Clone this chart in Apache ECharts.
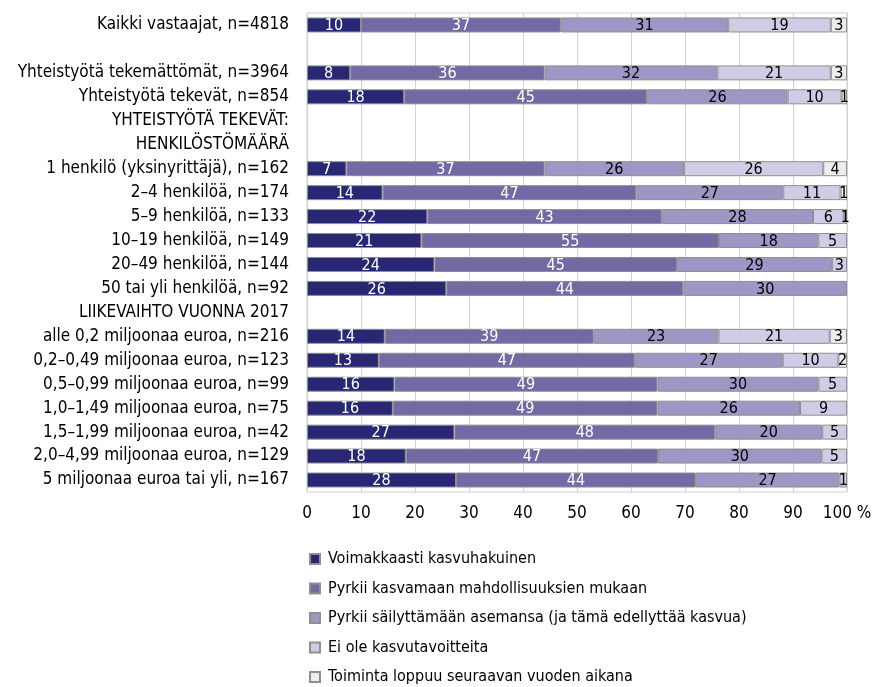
<!DOCTYPE html>
<html><head><meta charset="utf-8">
<script src="https://cdn.jsdelivr.net/npm/echarts@6/dist/echarts.min.js"></script>
<style>html,body{margin:0;padding:0;background:#fff}#c{width:879px;height:687px}</style>
</head><body><div id="c"></div>
<script>
const categories = [
  'Kaikki vastaajat, n=4818', '',
  'Yhteistyötä tekemättömät, n=3964', 'Yhteistyötä tekevät, n=854',
  'YHTEISTYÖTÄ TEKEVÄT:', 'HENKILÖSTÖMÄÄRÄ',
  '1 henkilö (yksinyrittäjä), n=162', '2–4 henkilöä, n=174', '5–9 henkilöä, n=133',
  '10–19 henkilöä, n=149', '20–49 henkilöä, n=144', '50 tai yli henkilöä, n=92',
  'LIIKEVAIHTO VUONNA 2017',
  'alle 0,2 miljoonaa euroa, n=216', '0,2–0,49 miljoonaa euroa, n=123',
  '0,5–0,99 miljoonaa euroa, n=99', '1,0–1,49 miljoonaa euroa, n=75',
  '1,5–1,99 miljoonaa euroa, n=42', '2,0–4,99 miljoonaa euroa, n=129',
  '5 miljoonaa euroa tai yli, n=167'
];
const seriesNames = [
  'Voimakkaasti kasvuhakuinen',
  'Pyrkii kasvamaan mahdollisuuksien mukaan',
  'Pyrkii säilyttämään asemansa (ja tämä edellyttää kasvua)',
  'Ei ole kasvutavoitteita',
  'Toiminta loppuu seuraavan vuoden aikana'
];
const s1 = [10, '-', 8, 18, '-', '-', 7.3, 14, 22.3, 21.2, 23.6, 25.8, '-', 14.4, 13.3, 16.2, 15.9, 27.3, 18.3, 27.6];
const s2 = [37, '-', 36, 45, '-', '-', 36.7, 47, 43.4, 55.1, 44.9, 43.9, '-', 38.7, 47.4, 48.7, 49, 48.3, 46.7, 44.4];
const s3 = [31, '-', 32, 26, '-', '-', 25.8, 27.2, 28, 18.4, 28.7, 30.3, '-', 23.1, 27.4, 29.8, 26.4, 19.8, 30.3, 26.6];
const s4 = [19, '-', 21, 10, '-', '-', 25.8, 10.6, 5.7, 5.3, 2.8, '-', '-', 20.6, 10.3, 5.3, 8.7, 4.6, 4.7, 1.4];
const s5 = [3, '-', 3, 1, '-', '-', 4.4, 1.2, 0.6, '-', '-', '-', '-', 3.2, 1.6, '-', '-', '-', '-', '-'];
const xTicks = [0, 10, 20, 30, 40, 50, 60, 70, 80, 90, 100];

const colors = ['#272775', '#736aa5', '#9d97c5', '#cfcde6', '#ededed'];
const labelColors = ['#fff', '#fff', '#000', '#000', '#000'];
const FONT = '"Liberation Sans Narrow", "DejaVu Sans Condensed", "Roboto Condensed", sans-serif';
const allData = [s1, s2, s3, s4, s5];

const chart = echarts.init(document.getElementById('c'), null, {renderer: 'canvas'});
chart.setOption({
  animation: false,
  textStyle: {fontFamily: FONT},
  grid: {left: 307, right: 32, top: 13, bottom: 195, show: true, borderColor: '#cfcfcf', borderWidth: 1},
  legend: {
    orient: 'vertical', left: 309, top: 551, padding: 0,
    itemWidth: 10, itemHeight: 10, itemGap: 13.5,
    icon: 'rect',
    textStyle: {fontFamily: FONT, fontSize: 16, lineHeight: 16, color: '#000', padding: [0, 0, 0, 3]},
    data: seriesNames
  },
  xAxis: {
    type: 'value', min: 0, max: 100, interval: 10,
    axisLine: {show: false}, axisTick: {show: false},
    splitLine: {show: true, lineStyle: {color: '#d2d2d2', width: 1}},
    axisLabel: {
      fontFamily: FONT, fontSize: 17, color: '#000', margin: 13,
      formatter: v => xTicks.includes(v) ? (v === 100 ? '100 %' : String(v)) : ''
    }
  },
  yAxis: {
    type: 'category', data: categories, inverse: true,
    axisLine: {show: false}, axisTick: {show: false},
    axisLabel: {fontFamily: FONT, fontSize: 17, color: '#000', margin: 18, padding: [3, 0, 0, 0]}
  },
  series: allData.map((d, i) => ({
    name: seriesNames[i], type: 'bar', stack: 'all', data: d,
    barWidth: 15,
    itemStyle: {color: colors[i], borderColor: '#8f8f8f', borderWidth: 1},
    label: {
      show: true, position: 'inside', color: labelColors[i],
      fontFamily: FONT, fontSize: 16, offset: [0, 1],
      formatter: p => (typeof p.value === 'number' ? String(Math.round(p.value)) : '')
    }
  }))
});
</script></body></html>
